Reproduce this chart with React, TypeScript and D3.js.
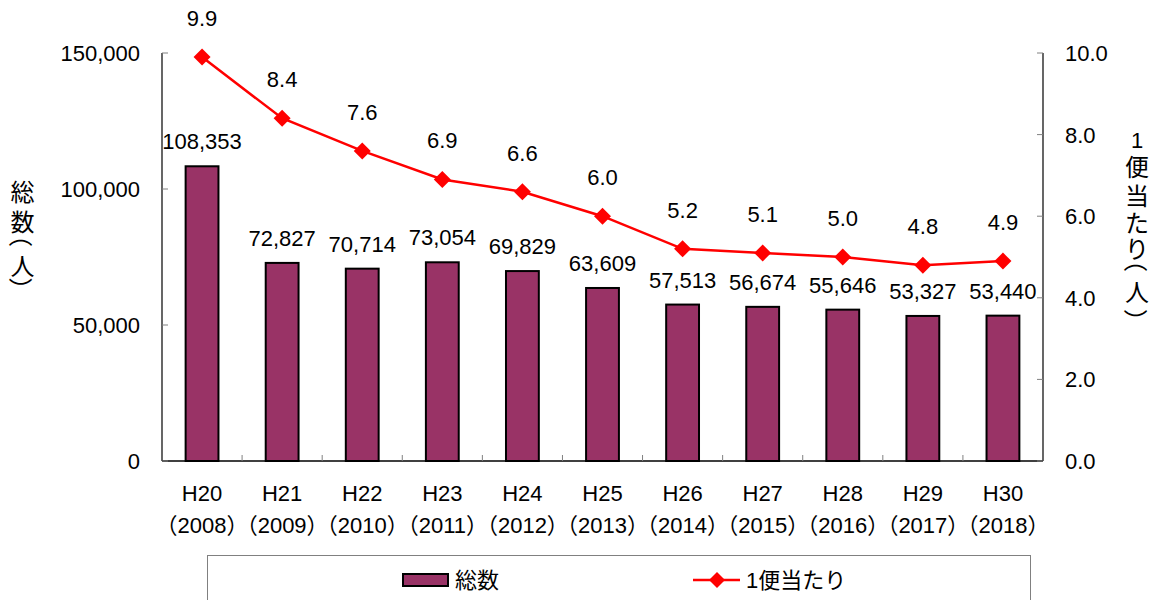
import React from "react";
import * as d3 from "d3";

const categories = ["H20", "H21", "H22", "H23", "H24", "H25", "H26", "H27", "H28", "H29", "H30"];
const years = ["2008", "2009", "2010", "2011", "2012", "2013", "2014", "2015", "2016", "2017", "2018"];
const totals = [108353, 72827, 70714, 73054, 69829, 63609, 57513, 56674, 55646, 53327, 53440];
const perFlight = [9.9, 8.4, 7.6, 6.9, 6.6, 6.0, 5.2, 5.1, 5.0, 4.8, 4.9];
const leftTicks = [0, 50000, 100000, 150000];
const rightTicks = [0, 2, 4, 6, 8, 10];
const leftTitle = ["総", "数", "（", "人", "）"];
const rightTitle = ["1", "便", "当", "た", "り", "（", "人", "）"];
const seriesNames = ["総数", "1便当たり"];

const W = 1155;
const H = 600;
const plotL = 162;
const plotR = 1043;
const plotT = 53;
const plotB = 461;
const FONT = "'Liberation Sans', 'Noto Sans CJK JP', Arial, sans-serif";
const CJK = "'Noto Sans CJK JP', sans-serif";
const BAR = "#993366";
const RED = "#FF0000";

function VTitle({ chars, x, ys }: { chars: string[]; x: number; ys: number[] }) {
  const isParen = (c: string) => c === "（" || c === "）";
  const off = 8;
  return (
    <g>
      <text textAnchor="middle" dominantBaseline="central" fontSize={24} fill="#000" fontFamily={CJK}>
        {chars.map((ch, i) =>
          isParen(ch) ? null : (
            <tspan key={i} x={x} y={ys[i]} fontFamily={ch === "1" ? FONT : CJK} fontSize={ch === "1" ? 22 : 24}>
              {ch}
            </tspan>
          )
        )}
      </text>
      {chars.map((ch, i) => {
        if (!isParen(ch)) return null;
        const yy = ch === "（" ? ys[i] - off : ys[i] + off;
        return (
          <text
            key={"p" + i}
            x={x}
            y={yy}
            textAnchor="middle"
            dominantBaseline="central"
            fontSize={24}
            fill="#000"
            fontFamily={CJK}
            transform={`rotate(90,${x},${yy})`}
          >
            {ch}
          </text>
        );
      })}
    </g>
  );
}

export default function App() {
  const x = d3.scaleBand<string>().domain(categories).range([plotL, plotR]).paddingInner(0.59).paddingOuter(0.295);
  const xc = d3.scaleBand<string>().domain(categories).range([plotL, plotR]);
  const yL = d3.scaleLinear().domain([0, 150000]).range([plotB, plotT]);
  const yR = d3.scaleLinear().domain([0, 10]).range([plotB, plotT]);
  const fmt = d3.format(",");
  const fmt1 = d3.format(".1f");
  const cx = (c: string) => (xc(c) as number) + xc.bandwidth() / 2;

  const line = d3
    .line<number>()
    .x((_, i) => cx(categories[i]))
    .y((d) => yR(d));

  const diamond = (s: number) => `M0,${-s}L${s},0L0,${s}L${-s},0Z`;

  const leftTitleY = [190, 220, 243, 264, 281.5];
  const rightTitleY = [139.5, 164.5, 193.5, 221, 247, 268, 290, 313];

  return (
    <svg width={W} height={H} style={{ position: "absolute", left: 0, top: 0 }} fontFamily={FONT}>
      <rect x={0} y={0} width={W} height={H} fill="#fff" />
      {/* bars */}
      {totals.map((v, i) => (
        <rect
          key={"b" + i}
          x={x(categories[i])}
          y={yL(v)}
          width={x.bandwidth()}
          height={plotB - yL(v)}
          fill={BAR}
          stroke="#000"
          strokeWidth={2}
        />
      ))}
      {/* axes */}
      <line x1={plotL} x2={plotL} y1={plotT} y2={plotB} stroke="#000" strokeWidth={1.2} />
      <line x1={plotR} x2={plotR} y1={plotT} y2={plotB} stroke="#000" strokeWidth={1.2} />
      <line x1={plotL} x2={plotR} y1={plotB} y2={plotB} stroke="#000" strokeWidth={1.5} />
      {leftTicks.map((t) => (
        <g key={"lt" + t}>
          <line x1={plotL} x2={plotL + 6} y1={yL(t)} y2={yL(t)} stroke="#808080" strokeWidth={1} />
          <text x={140} y={yL(t)} dy="0.36em" textAnchor="end" fontSize={22} fill="#000">
            {fmt(t)}
          </text>
        </g>
      ))}
      {rightTicks.map((t) => (
        <g key={"rt" + t}>
          <line x1={plotR - 6} x2={plotR} y1={yR(t)} y2={yR(t)} stroke="#808080" strokeWidth={1} />
          <text x={1065} y={yR(t)} dy="0.36em" textAnchor="start" fontSize={22} fill="#000">
            {fmt1(t)}
          </text>
        </g>
      ))}
      {categories.slice(1).map((c) => (
        <line key={"ct" + c} x1={xc(c)} x2={xc(c)} y1={plotB - 6} y2={plotB} stroke="#808080" strokeWidth={1} />
      ))}
      {categories.map((c, i) => (
        <g key={"cl" + c}>
          <text x={cx(c)} y={493} dy="0.36em" textAnchor="middle" fontSize={22} fill="#000">
            {c}
          </text>
          <text
            x={cx(c)}
            y={525}
            dy="0.36em"
            textAnchor="middle"
            fontSize={22}
            fill="#000"
            style={{ fontFeatureSettings: '"halt"' }}
          >
            {"（" + years[i] + "）"}
          </text>
        </g>
      ))}
      {/* bar labels */}
      {totals.map((v, i) => (
        <text key={"bl" + i} x={cx(categories[i])} y={yL(v) - 17} textAnchor="middle" fontSize={22} fill="#000">
          {fmt(v)}
        </text>
      ))}
      {/* line */}
      <path d={line(perFlight) as string} fill="none" stroke={RED} strokeWidth={2.5} />
      {perFlight.map((v, i) => (
        <path key={"m" + i} d={diamond(8.5)} transform={`translate(${cx(categories[i])},${yR(v)})`} fill={RED} />
      ))}
      {perFlight.map((v, i) => (
        <text key={"ll" + i} x={cx(categories[i])} y={yR(v) - 31} textAnchor="middle" fontSize={22} fill="#000">
          {fmt1(v)}
        </text>
      ))}
      {/* axis titles */}
      <VTitle chars={leftTitle} x={22.5} ys={leftTitleY} />
      <VTitle chars={rightTitle} x={1137} ys={rightTitleY} />
      {/* legend */}
      <rect x={207.5} y={555.5} width={823} height={70} fill="#fff" stroke="#808080" strokeWidth={1} />
      <rect x={403} y={574} width={45} height={12} fill={BAR} stroke="#000" strokeWidth={2} />
      <text x={455} y={580} dy="0.36em" fontSize={22} fill="#000">
        {seriesNames[0]}
      </text>
      <line x1={693} x2={740} y1={580} y2={580} stroke={RED} strokeWidth={2.5} />
      <path d={diamond(8)} transform="translate(717,580)" fill={RED} />
      <text x={746} y={580} dy="0.36em" fontSize={22} fill="#000">
        {seriesNames[1]}
      </text>
    </svg>
  );
}
